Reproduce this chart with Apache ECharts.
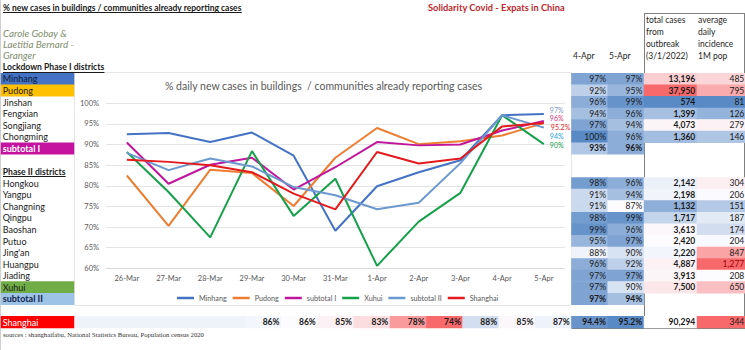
<!DOCTYPE html>
<html><head><meta charset="utf-8">
<script src="https://cdn.jsdelivr.net/npm/echarts@6/dist/echarts.min.js"></script>
<style>html,body{margin:0;padding:0;background:#fff}#c{width:745px;height:350px}</style>
</head><body><div id="c"></div>
<script>
// ---------- DATA ----------
const dates = ['26-Mar','27-Mar','28-Mar','29-Mar','30-Mar','31-Mar','1-Apr','2-Apr','3-Apr','4-Apr','5-Apr'];
// line series (% of daily new cases in buildings already reporting cases)
const minhang   = [92.5, 92.8, 90.6, 92.9, 87.3, 69.1, 79.9, 83.3, 86.2, 97.1, 97.4];
const pudong    = [82.5, 70.3, 83.9, 83.1, 75.1, 86.8, 94.0, 90.1, 90.8, 92.2, 95.2];
const subtotal1 = [90.5, 80.5, 85.1, 86.8, 79.1, 84.5, 90.6, 89.8, 90.0, 93.4, 95.7];
const xuhui     = [88.2, 78.5, 67.5, 88.4, 72.7, 81.7, 60.6, 71.3, 78.3, 97.1, 90.1];
const subtotal2 = [88.0, 83.8, 86.6, 84.7, 79.7, 77.7, 74.3, 75.9, 85.5, 97.1, 94.1];
const shanghai  = [86.3, 85.8, 85.0, 83.3, 78.1, 74.3, 88.2, 85.4, 86.6, 94.4, 95.2];
// table rows
const rowNames = ['Lockdown Phase I districts','Minhang','Pudong','Jinshan','Fengxian','Songjiang','Chongming','subtotal I','',
  'Phase II districts','Hongkou','Yangpu','Changning','Qingpu','Baoshan','Putuo',"Jing'an",'Huangpu','Jiading','Xuhui','subtotal II','','Shanghai'];
const apr4 = [null,97,92,96,94,97,100,93,null,null,98,91,91,98,99,95,88,96,97,97,97,null,null];
const apr5 = [null,97,95,99,96,94,96,96,null,null,96,94,87,99,96,97,90,92,97,90,94,null,null];
const totalCases = [null,13196,37950,574,1399,4073,1360,null,null,null,2142,2198,1132,1717,3613,2420,2220,4887,3913,7500,null,null,90294];
const avgIncidence = [null,485,795,81,126,279,146,null,null,null,304,206,151,187,174,204,847,1277,208,650,null,null,344];

// ---------- STYLE ----------
const FF = 'Lato, "Noto Sans", sans-serif';
const SH_ROW = rowNames.indexOf('Shanghai');
const headerRows = ['Lockdown Phase I districts','Phase II districts'];
const boldRows = ['subtotal I','subtotal II'];
const cellStyle = {
  'Minhang': {bg:'#4472C4', color:'#0e1a33'},
  'Pudong': {bg:'#FFC000', color:'#1a1a1a'},
  'subtotal I': {bg:'#C5139F', color:'#ffffff', bold:true},
  'Xuhui': {bg:'#70AD47', color:'#1a1a1a'},
  'subtotal II': {bg:'#9DC3E6', color:'#13234d', bold:true},
  'Shanghai': {bg:'#FF0000', color:'#ffffff'}
};
const WHITE='#FCFCFF', BLUE='#5A8AC6', RED='#F8696B';
function hx(c){return [parseInt(c.slice(1,3),16),parseInt(c.slice(3,5),16),parseInt(c.slice(5,7),16)];}
function mix(a,b,t){t=Math.max(0,Math.min(1,t));const A=hx(a),B=hx(b);return 'rgb('+A.map((v,i)=>Math.round(v+(B[i]-v)*t)).join(',')+')';}
function median(a){const s=a.slice().sort((x,y)=>x-y);const n=s.length;return n%2?s[(n-1)/2]:(s[n/2-1]+s[n/2])/2;}
function scale3(v,min,mid,max,lowC,highC){return v<mid?mix(WHITE,lowC,(mid-v)/(mid-min)):mix(WHITE,highC,(v-mid)/(max-mid));}

const pctVals = apr4.concat(apr5).filter(v=>v!=null);
const pMin = Math.min(...pctVals), pMax = Math.max(...pctVals);
const shMin = Math.min(...shanghai), shMax = Math.max(...shanghai), shMed = median(shanghai);
const tcV = totalCases.filter((v,i)=>v!=null && i!==SH_ROW);
const aiV = avgIncidence.filter((v,i)=>v!=null && i!==SH_ROW);
const tcMin=Math.min(...tcV), tcMax=Math.max(...tcV), tcMed=median(tcV);
const aiMin=Math.min(...aiV), aiMax=Math.max(...aiV), aiMed=median(aiV);

// ---------- TABLE DATA ----------
const pctData = [];
rowNames.forEach((n,i)=>{
  [apr4[i], apr5[i]].forEach((v,k)=>{
    if (v==null) return;
    pctData.push({value:[9+k,i,v], itemStyle:{color:mix(WHITE,BLUE,(v-pMin)/(pMax-pMin))},
      label:{fontWeight: boldRows.includes(n)?'bold':'normal'}});
  });
});
shanghai.forEach((v,j)=>{
  pctData.push({value:[j,SH_ROW,v], itemStyle:{color:scale3(v,shMin,shMed,shMax,RED,BLUE)}, label:{fontWeight:'bold'}});
});
const tcData = [], aiData = [];
rowNames.forEach((n,i)=>{
  if (totalCases[i]!=null) tcData.push({value:[0,i,totalCases[i]],
    itemStyle:{color: i===SH_ROW ? '#ffffff' : scale3(totalCases[i],tcMin,tcMed,tcMax,BLUE,RED)}});
  if (avgIncidence[i]!=null) aiData.push({value:[0,i,avgIncidence[i]],
    itemStyle:{color: i===SH_ROW ? RED : scale3(avgIncidence[i],aiMin,aiMed,aiMax,BLUE,RED)},
    label:{color: avgIncidence[i]===aiMax ? '#9C0006' : '#1a1a1a'}});
});
const nameData = rowNames.map((n,i)=>{
  const s = cellStyle[n] || {};
  const isHdr = headerRows.includes(n);
  return {value:[0,i,1], itemStyle:{color: s.bg || 'rgba(0,0,0,0)'},
    label:{color: s.color || '#1a1a1a', fontSize: isHdr ? 8.6 : 9, fontWeight: (s.bold || isHdr) ? 'bold' : 'normal'}};
});

// ---------- LAYOUT ----------
const TT = 61.6, RH = 11.58, NR = rowNames.length;
const rowKeys = rowNames.map((n,i)=>'r'+i);
const hiddenCat = (data)=>({type:'category', data, show:false});
const rowAxis = (gi)=>({type:'category', data:rowKeys, inverse:true, show:false, gridIndex:gi});

const lineDefs = [
  {name:'Minhang', data:minhang, color:'#4472C4', lab:'#8397C2', off:[0,-4.5]},
  {name:'Pudong', data:pudong, color:'#ED7D31'},
  {name:'subtotal I', data:subtotal1, color:'#C0169C', lab:'#D2307A', off:[0,-3]},
  {name:'Xuhui', data:xuhui, color:'#16A04A', lab:'#16A04A', off:[0,1]},
  {name:'subtotal II', data:subtotal2, color:'#6A98CF', lab:'#1AA3D6', off:[0,8.5]},
  {name:'Shanghai', data:shanghai, color:'#E41A1C', lab:'#E41A1C', off:[1,4], dec:1}
];

const heatLabel = (extra)=>Object.assign({show:true, position:'insideRight', distance:2, fontSize:8.5,
  fontFamily:FF, color:'#1a1a1a'}, extra);

const option = {
  animation:false,
  backgroundColor:'#ffffff',
  textStyle:{fontFamily:FF},
  title:[
    {text:'% new cases in buildings / communities already reporting cases', left:3, top:3, padding:0,
      textStyle:{fontSize:8.5, fontWeight:'bold', color:'#1a1a1a', fontFamily:FF}},
    {text:'Solidarity Covid - Expats in China', left:428, top:3, padding:0,
      textStyle:{fontSize:9.3, fontWeight:'bold', color:'#C0282D', fontFamily:FF}},
    {text:'Carole Gobay &\nLaetitia Bernard -\nGranger', left:3, top:27.5, padding:0,
      textStyle:{fontSize:9.8, fontStyle:'italic', fontWeight:'normal', color:'#7F8C6E', lineHeight:11, fontFamily:FF}},
    {text:'4-Apr', left:573, top:51.5, padding:0, textStyle:{fontSize:8.5, fontWeight:'normal', color:'#262626', fontFamily:FF}},
    {text:'5-Apr', left:609, top:51.5, padding:0, textStyle:{fontSize:8.5, fontWeight:'normal', color:'#262626', fontFamily:FF}},
    {text:'total cases\nfrom\noutbreak\n(3/1/2022)', left:646, top:14.5, padding:0,
      textStyle:{fontSize:8.5, fontWeight:'normal', color:'#262626', lineHeight:11.8, fontFamily:FF}},
    {text:'average\ndaily\nincidence\n1M pop', left:698, top:14.5, padding:0,
      textStyle:{fontSize:8.5, fontWeight:'normal', color:'#262626', lineHeight:11.8, fontFamily:FF}},
    {text:'% daily new cases in buildings  / communities already reporting cases', left:165, top:80.5, padding:0,
      textStyle:{fontSize:10.5, fontWeight:'normal', color:'#595959', fontFamily:FF}},
    {text:'sources : shanghaifabu, National Statistics Bureau, Population census 2020', left:3, top:330.5, padding:0,
      textStyle:{fontSize:6.7, fontWeight:'normal', color:'#333333', fontFamily:'"Liberation Serif", serif'}}
  ],
  legend:{left:172, top:289.5, itemGap:6, icon:'rect', itemWidth:17, itemHeight:2.5,
    textStyle:{fontSize:7.2, color:'#595959', fontFamily:FF},
    data:lineDefs.map(d=>d.name)},
  grid:[
    {left:106, top:103.3, width:458.7, height:165},
    {left:245, top:TT, width:399, height:NR*RH},
    {left:644, top:TT, width:53, height:NR*RH},
    {left:697, top:TT, width:48, height:NR*RH},
    {left:1, top:TT, width:73, height:NR*RH}
  ],
  xAxis:[
    {type:'category', data:dates, gridIndex:0, axisTick:{show:false},
      axisLine:{lineStyle:{color:'#d9d9d9'}},
      axisLabel:{fontSize:7.5, color:'#595959', margin:6, fontFamily:FF, interval:0}},
    Object.assign(hiddenCat(dates),{gridIndex:1}),
    Object.assign(hiddenCat(['total']),{gridIndex:2}),
    Object.assign(hiddenCat(['avg']),{gridIndex:3}),
    Object.assign(hiddenCat(['name']),{gridIndex:4})
  ],
  yAxis:[
    {type:'value', gridIndex:0, min:60, max:100, interval:5,
      axisLine:{show:false}, axisTick:{show:false},
      splitLine:{lineStyle:{color:'#e3e3e3'}},
      axisLabel:{fontSize:7.5, color:'#595959', margin:7, fontFamily:FF, formatter:v=>v+'%'}},
    rowAxis(1), rowAxis(2), rowAxis(3), rowAxis(4)
  ],
  series:[
    ...lineDefs.map(d=>({type:'line', name:d.name, data:d.data, xAxisIndex:0, yAxisIndex:0,
      symbol:'none', silent:true, lineStyle:{width:2, color:d.color}, itemStyle:{color:d.color},
      endLabel: d.lab ? {show:true, color:d.lab, fontSize:7, fontFamily:FF, distance:6, offset:d.off,
        formatter:p=>(+p.value).toFixed(d.dec||0)+'%'} : {show:false}})),
    {type:'heatmap', xAxisIndex:1, yAxisIndex:1, data:pctData, silent:true,
      label:heatLabel({formatter:p=>{const dec=(p.value[1]===SH_ROW && p.value[0]>=9)?1:0;return p.value[2].toFixed(dec)+'%';}})},
    {type:'heatmap', xAxisIndex:2, yAxisIndex:2, data:tcData, silent:true,
      label:heatLabel({fontWeight:'bold', formatter:p=>p.value[2].toLocaleString('en-US')})},
    {type:'heatmap', xAxisIndex:3, yAxisIndex:3, data:aiData, silent:true,
      label:heatLabel({distance:1, formatter:p=>p.value[2].toLocaleString('en-US')})},
    {type:'heatmap', xAxisIndex:4, yAxisIndex:4, data:nameData, silent:true,
      label:{show:true, position:'insideLeft', distance:2, fontSize:9, fontFamily:FF,
        formatter:p=>rowNames[p.value[1]]}}
  ]
};

const chart = echarts.init(document.getElementById('c'), null, {renderer:'svg'});
chart.setOption(option);

// decorations: underlines, borders, chart frame
const mctx = document.createElement('canvas').getContext('2d');
function textW(t, font){mctx.font = font; return mctx.measureText(t).width;}
const rowY = (name)=>chart.convertToPixel({yAxisIndex:4}, 'r'+rowNames.indexOf(name));
const line = (x1,y1,x2,y2,color,w)=>({type:'line', silent:true, shape:{x1,y1,x2,y2}, style:{stroke:color, lineWidth:w||1}});
const ul = [];
['Lockdown Phase I districts','Phase II districts','subtotal II'].forEach(n=>{
  const y = Math.round(rowY(n)+4.5)+0.5;
  const fs = headerRows.includes(n) ? 8.6 : 9;
  ul.push(line(3,y,3+textW(n,'bold '+fs+'px '+FF),y, n==='subtotal II' ? '#13234d' : '#1a1a1a'));
});
ul.push(line(3,12.5,3+textW(option.title[0].text,'bold 8.5px '+FF),12.5,'#1a1a1a'));
const shTop = rowY('Shanghai') - RH/2, tblBottom = TT + NR*RH;
const xDate0 = chart.convertToPixel({xAxisIndex:1}, dates[0]) - 399/22;
const x4 = chart.convertToPixel({xAxisIndex:1}, '4-Apr') - 399/22;
chart.setOption({graphic:[
  {type:'rect', silent:true, z:-1, shape:{x:75, y:shTop, width:xDate0-75, height:RH}, style:{fill:'#EEF3FA'}},
  {type:'rect', silent:true, shape:{x:74.5, y:72.5, width:497, height:233}, style:{fill:'none', stroke:'#e6e6e6'}},
  line(0.5,0,0.5,350,'#d0d0d0'),
  line(644.5,13,644.5,tblBottom,'#7f7f7f'),
  line(644,13.5,745,13.5,'#7f7f7f'),
  line(744.5,13,744.5,tblBottom,'#7f7f7f'),
  line(x4,Math.round(tblBottom)+0.5,745,Math.round(tblBottom)+0.5,'#7f7f7f'),
  ...ul
]});
</script></body></html>
